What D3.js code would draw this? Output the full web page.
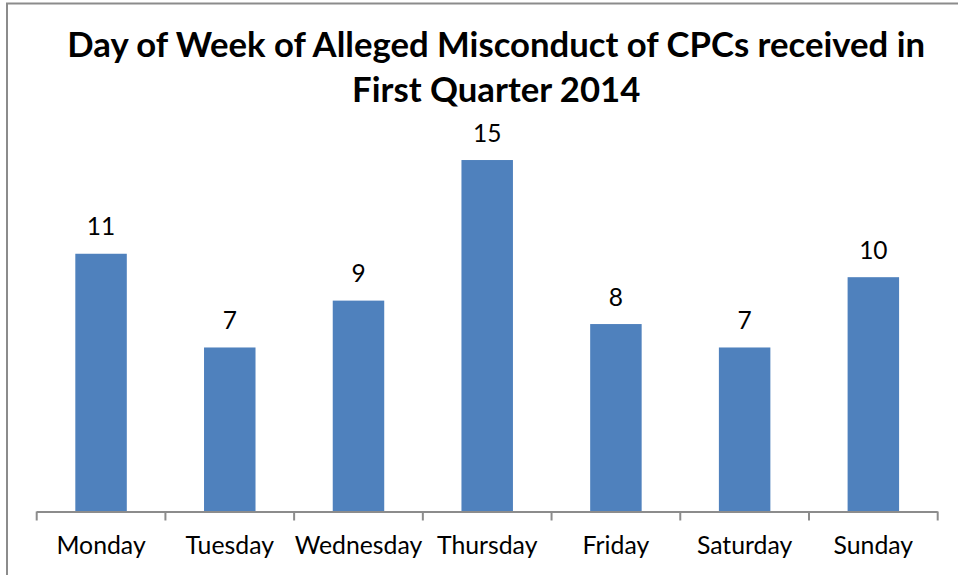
<!DOCTYPE html>
<html>
<head>
<meta charset="utf-8">
<script src="https://cdn.jsdelivr.net/npm/d3@7"></script>
<style>
  html, body { margin: 0; padding: 0; background: #fff; }
  svg text { font-family: Lato, "Open Sans", sans-serif; fill: #000; }
</style>
</head>
<body>
<div id="root"></div>
<script>
// Chart data
const days = ["Monday", "Tuesday", "Wednesday", "Thursday", "Friday", "Saturday", "Sunday"];
const counts = [11, 7, 9, 15, 8, 7, 10];
const titleLines = ["Day of Week of Alleged Misconduct of CPCs received in", "First Quarter 2014"];

const width = 958;
const height = 575;
const plot = { left: 36.7, right: 937.7, top: 136.6, bottom: 511.5 };

const svg = d3.select("#root")
  .append("svg")
  .attr("width", width)
  .attr("height", height);

// chart frame (runs off the right and bottom of the picture)
svg.append("rect")
  .attr("x", 7)
  .attr("y", 3.5)
  .attr("width", 1000)
  .attr("height", 700)
  .style("fill", "#fff")
  .style("stroke", "#8c8c8c")
  .style("stroke-width", 2);

const x = d3.scaleBand()
  .domain(days)
  .range([plot.left, plot.right])
  .paddingInner(0.6)
  .paddingOuter(0.3);

const y = d3.scaleLinear()
  .domain([0, 16])
  .range([plot.bottom, plot.top]);

// bars
svg.append("g")
  .selectAll("rect")
  .data(days)
  .join("rect")
  .attr("x", d => x(d))
  .attr("y", (d, i) => y(counts[i]))
  .attr("width", x.bandwidth())
  .attr("height", (d, i) => y(0) - y(counts[i]))
  .style("fill", "#4f81bd");

// value labels
svg.append("g")
  .selectAll("text")
  .data(days)
  .join("text")
  .attr("x", d => x(d) + x.bandwidth() / 2)
  .attr("y", (d, i) => y(counts[i]) - 18.5)
  .attr("text-anchor", "middle")
  .style("font-size", "24.5px")
  .text((d, i) => counts[i]);

// category axis with ticks between categories
const step = x.step();
const tickPos = d3.range(days.length + 1).map(i => plot.left + i * step);
const axis = svg.append("g");
axis.append("line")
  .attr("x1", plot.left)
  .attr("x2", plot.right)
  .attr("y1", plot.bottom + 0.5)
  .attr("y2", plot.bottom + 0.5)
  .style("stroke", "#8c8c8c")
  .style("stroke-width", 2);
axis.selectAll("line.tick")
  .data(tickPos)
  .join("line")
  .attr("class", "tick")
  .attr("x1", d => d)
  .attr("x2", d => d)
  .attr("y1", plot.bottom)
  .attr("y2", plot.bottom + 9)
  .style("stroke", "#8c8c8c")
  .style("stroke-width", 2);
axis.selectAll("text")
  .data(days)
  .join("text")
  .attr("x", d => x(d) + x.bandwidth() / 2)
  .attr("y", 554)
  .attr("text-anchor", "middle")
  .style("font-size", "24.8px")
  .text(d => d);

// title
svg.append("g")
  .selectAll("text")
  .data(titleLines)
  .join("text")
  .attr("x", (plot.left + plot.right) / 2 + 9)
  .attr("y", (d, i) => 57 + i * 45)
  .attr("text-anchor", "middle")
  .style("font-size", "34.7px")
  .style("font-weight", "bold")
  .text(d => d);
</script>
</body>
</html>
